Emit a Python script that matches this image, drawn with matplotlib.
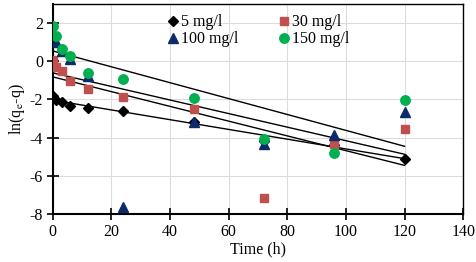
import matplotlib
matplotlib.use("Agg")
import matplotlib.pyplot as plt
import numpy as np

plt.rcParams['font.family'] = ['Liberation Serif', 'DejaVu Serif']
plt.rcParams['mathtext.fontset'] = 'stix'
plt.rcParams['axes.unicode_minus'] = False

# Data
t5 = [0, 1, 3, 6, 12, 24, 48, 72, 96, 120]
y5 = [-1.82, -2.04, -2.13, -2.32, -2.44, -2.60, -3.20, -4.15, -4.40, -5.11]
t30 = [0, 1, 3, 6, 12, 24, 48, 72, 96, 120]
y30 = [0.07, -0.30, -0.52, -1.03, -1.47, -1.87, -2.48, -7.14, -4.35, -3.53]
t100 = [0, 1, 3, 6, 12, 24, 48, 72, 96, 120]
y100 = [1.36, 1.01, 0.55, 0.10, -0.79, -7.63, -3.19, -4.35, -3.87, -2.65]
t150 = [0, 1, 3, 6, 12, 24, 48, 72, 96, 120]
y150 = [1.85, 1.33, 0.63, 0.26, -0.59, -0.94, -1.90, -4.05, -4.80, -2.04]

# Linear fit lines: intercept, slope
fit_intercepts = [0.54, -0.61, -0.82, -2.04]
fit_slopes = [-0.0416, -0.0355, -0.0386, -0.0255]
fit_range = [0, 120]

labels = ['5 mg/l', '30 mg/l', '100 mg/l', '150 mg/l']

fig = plt.figure(figsize=(4.76, 2.62), dpi=100)
ax = fig.add_axes([0.111, 0.183, 0.862, 0.802])

ax.grid(True, color='#dcdcdc', linewidth=0.8, zorder=0)
ax.set_axisbelow(True)

xs = np.array(fit_range, dtype=float)
for b, m in zip(fit_intercepts, fit_slopes):
    ax.plot(xs, b + m * xs, color='black', linewidth=1.0, zorder=2)

h5, = ax.plot(t5, y5, linestyle='none', marker='D', markersize=5.2, color='black', label=labels[0], zorder=3)
h30, = ax.plot(t30, y30, linestyle='none', marker='s', markersize=6.2, color='#C0504D', label=labels[1], zorder=3)
h100, = ax.plot(t100, y100, linestyle='none', marker='^', markersize=6.8, color='#0D2A6B', label=labels[2], zorder=3)
h150, = ax.plot(t150, y150, linestyle='none', marker='o', markersize=6.8, color='#00B050', label=labels[3], zorder=3)

ax.set_xlim(0, 140)
ax.set_ylim(-8, 3)
ax.set_xticks(np.arange(0, 141, 20))
ax.set_yticks(np.arange(-8, 3, 2))
ax.tick_params(direction='inout', length=8, width=1.2, labelsize=11.5, pad=3)

for s in ['left', 'bottom']:
    ax.spines[s].set_linewidth(1.5)
for s in ['top', 'right']:
    ax.spines[s].set_linewidth(1.0)

ax.set_xlabel('Time (h)', fontsize=11.5, labelpad=1)
ax.set_ylabel(r'ln(q$_\mathrm{e}$-q)', fontsize=11.5, labelpad=2)

handles = [h5, h100, h30, h150]
leg = ax.legend(handles, [h.get_label() for h in handles], ncol=2, loc='upper left',
                bbox_to_anchor=(0.255, 1.0), frameon=False,
                fontsize=11.5, handlelength=0.6, handletextpad=0.2, columnspacing=2.6,
                labelspacing=0.05, borderaxespad=0.25)

fig.savefig('out.png', dpi=100)
